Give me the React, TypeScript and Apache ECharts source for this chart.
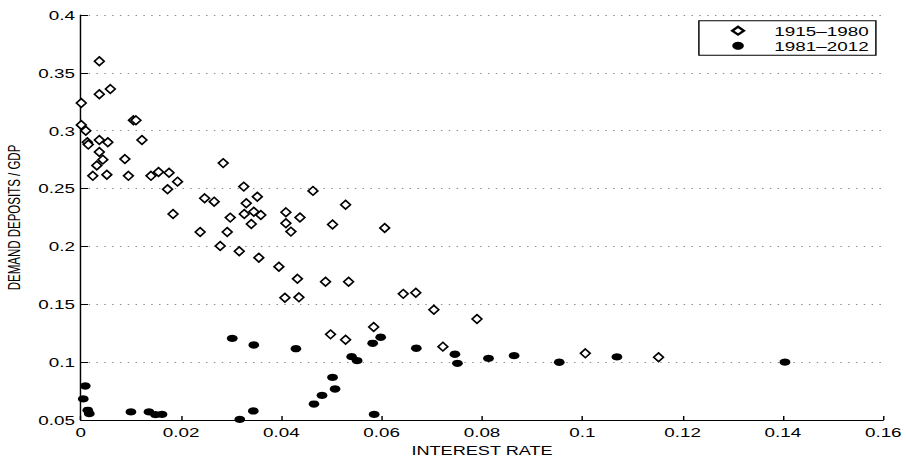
import React, { useEffect, useRef } from "react";
import * as echarts from "echarts";

// 1915–1980 (open diamonds)
const earlyRate = [
  0.0037, 0.0037, 0.0059, 0.0001, 0.0105, 0.011, 0.0001, 0.001, 0.0013, 0.0015,
  0.0037, 0.0054, 0.0122, 0.0037, 0.0044, 0.0032, 0.0088, 0.0284, 0.0024, 0.0052,
  0.0095, 0.014, 0.0155, 0.0176, 0.0193, 0.0173, 0.0184, 0.0247, 0.0266, 0.0325,
  0.0352, 0.033, 0.0298, 0.0326, 0.0345, 0.0359, 0.034, 0.0238, 0.0292, 0.0278,
  0.0316, 0.0355, 0.0463, 0.0528, 0.0409, 0.0409, 0.0437, 0.0502, 0.0606, 0.0419,
  0.0395, 0.0432, 0.0488, 0.0534, 0.0407, 0.0435, 0.0643, 0.0668, 0.0704, 0.079,
  0.0584, 0.0498, 0.0528, 0.0722, 0.1006, 0.1152,
];
const earlyRatio = [
  0.36, 0.3315, 0.336, 0.324, 0.309, 0.309, 0.305, 0.3, 0.29, 0.288,
  0.292, 0.29, 0.292, 0.2816, 0.275, 0.27, 0.2755, 0.272, 0.261, 0.262,
  0.261, 0.261, 0.2643, 0.2637, 0.256, 0.2494, 0.228, 0.2416, 0.2387, 0.2517,
  0.243, 0.2373, 0.2249, 0.228, 0.23, 0.2272, 0.2194, 0.2125, 0.2125, 0.2004,
  0.1958, 0.1903, 0.248, 0.236, 0.2295, 0.22, 0.225, 0.219, 0.216, 0.2128,
  0.1825, 0.172, 0.1695, 0.1695, 0.1557, 0.156, 0.159, 0.16, 0.1453, 0.1373,
  0.1304, 0.124, 0.1194, 0.1134, 0.1076, 0.1042,
];

// 1981–2012 (filled circles)
const lateRate = [
  0.0302, 0.0345, 0.0429, 0.0009, 0.0005, 0.0014, 0.0017, 0.01, 0.0136, 0.0149,
  0.0162, 0.0317, 0.0344, 0.0582, 0.0598, 0.054, 0.0551, 0.0669, 0.0746, 0.0751,
  0.0813, 0.0502, 0.0507, 0.0481, 0.0465, 0.0585, 0.0864, 0.0954, 0.1069, 0.1404,
];
const lateRatio = [
  0.1206, 0.1148, 0.1116, 0.0794, 0.0682, 0.0584, 0.0555, 0.057, 0.057, 0.0546,
  0.0549, 0.0506, 0.0578, 0.1163, 0.1215, 0.1047, 0.1013, 0.112, 0.1068, 0.099,
  0.1033, 0.0869, 0.0768, 0.0713, 0.0638, 0.0549, 0.1056, 0.0999, 0.1045, 0.1,
];

const seriesNames = ["1915\u20131980", "1981\u20132012"];
const xTitle = "INTEREST RATE";
const yTitle = "DEMAND DEPOSITS / GDP";

const STRETCH = 1.45;
const PAGE_W = 906;
const PAGE_H = 456;
const W = PAGE_W / STRETCH;
const FONT = "'Liberation Sans', Arial, Helvetica, sans-serif";

const fmt = (v: number) => String(+v.toFixed(2));

export default function App() {
  const ref = useRef<HTMLDivElement>(null);
  useEffect(() => {
    document.body.style.margin = "0";
    document.body.style.overflow = "hidden";
    const chart = echarts.init(ref.current!, null, { renderer: "svg" });
    chart.setOption({
      animation: false,
      backgroundColor: "#fff",
      textStyle: { fontFamily: FONT, color: "#000" },
      grid: {
        left: 55.7,
        right: W - 883 / STRETCH,
        top: 15,
        bottom: 36,
        containLabel: false,
        outerBoundsMode: "none",
      },
      legend: {
        orient: "vertical",
        left: 482,
        top: 20.7,
        padding: [3.5, 5, 3, 22],
        itemGap: 2,
        itemWidth: 8,
        itemHeight: 8,
        borderColor: "#000",
        borderWidth: 1,
        backgroundColor: "#fff",
        selectedMode: false,
        textStyle: { fontSize: 13, color: "#000", fontFamily: FONT, padding: [0, 0, 0, 16] },
        data: seriesNames,
      },
      xAxis: {
        type: "value",
        min: 0,
        max: 0.16,
        interval: 0.02,
        name: xTitle,
        nameLocation: "middle",
        nameGap: 19,
        nameTextStyle: { fontSize: 12.5, color: "#000", fontFamily: FONT },
        axisLine: { show: true, onZero: false, lineStyle: { color: "#000", width: 1 } },
        axisTick: { show: true, inside: true, length: 4, lineStyle: { color: "#000" } },
        axisLabel: { fontSize: 13, color: "#000", margin: 6, formatter: fmt, fontFamily: FONT },
        splitLine: { show: false },
      },
      yAxis: {
        type: "value",
        min: 0.05,
        max: 0.4,
        interval: 0.05,
        name: yTitle,
        nameLocation: "middle",
        nameRotate: 90,
        nameGap: 38,
        nameTextStyle: { fontSize: 11.5, color: "#000", fontFamily: FONT },
        axisLine: { show: true, onZero: false, lineStyle: { color: "#000", width: 1 } },
        axisTick: { show: true, inside: true, length: 5, lineStyle: { color: "#000" } },
        axisLabel: { fontSize: 13, color: "#000", margin: 4, formatter: fmt, fontFamily: FONT },
        splitLine: {
          show: true,
          lineStyle: { color: "#8c8c8c", width: 1, type: [1, 4.4] },
        },
      },
      series: [
        {
          name: seriesNames[0],
          type: "scatter",
          symbol: "diamond",
          symbolSize: [6.7, 8.7],
          itemStyle: { color: "#fff", borderColor: "#000", borderWidth: 1.4, opacity: 1 },
          data: earlyRate.map((x, i) => [x, earlyRatio[i]]),
          z: 2,
        },
        {
          name: seriesNames[1],
          type: "scatter",
          symbol: "circle",
          symbolSize: [7.4, 7.3],
          itemStyle: { color: "#000", borderColor: "#000", borderWidth: 0, opacity: 1 },
          data: lateRate.map((x, i) => [x, lateRatio[i]]),
          z: 3,
        },
      ],
    });
    return () => chart.dispose();
  }, []);
  return (
    <div
      ref={ref}
      style={{
        position: "absolute",
        left: 0,
        top: 0,
        width: W,
        height: PAGE_H,
        transform: `scaleX(${STRETCH})`,
        transformOrigin: "0 0",
        background: "#fff",
      }}
    />
  );
}
